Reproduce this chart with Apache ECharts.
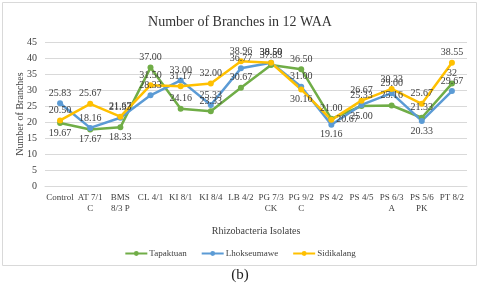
<!DOCTYPE html>
<html><head><meta charset="utf-8">
<script src="https://cdn.jsdelivr.net/npm/echarts@6/dist/echarts.min.js"></script>
<style>html,body{margin:0;padding:0;background:#fff}#c{width:480px;height:292px}</style>
</head><body><div id="c"></div>
<script>
const categories = ["Control","AT 7/1\nC","BMS\n8/3 P","CL 4/1","KI 8/1","KI 8/4","LB 4/2","PG 7/3\nCK","PG 9/2\nC","PS 4/2","PS 4/5","PS 6/3\nA","PS 5/6\nPK","PT 8/2"];
const tapaktuan   = [19.67,17.67,18.33,37.00,24.16,23.33,30.67,37.83,36.50,21.00,25.00,25.16,21.33,32];
const lhokseumawe = [25.83,18.16,21.33,28.33,33.00,25.33,36.77,38.50,31.00,19.16,25.33,29.00,20.33,29.67];
const sidikalang  = [20.50,25.67,21.67,31.50,31.17,32.00,38.96,38.50,30.16,20.67,26.67,30.33,25.67,38.55];
const tapaktuanLabels = tapaktuan.map((v,i)=> i===13 ? '32' : v.toFixed(2));
const yTicks = [0,5,10,15,20,25,30,35,40,45];

const greenPos = ['bottom','bottom','bottom','top','top','top','top','top','top','top','bottom','top','top','top'];
const bluePos  = ['top','top','top','top','top','top','top','top','top','bottom','top','top','bottom','top'];
const yellowPos= ['top','top','top','top','top','top','top','top','bottom','right','top','top','top','top'];

const F = 'Liberation Serif, Times New Roman, serif';
function mk(name, vals, labels, color, pos){
  return {
    name, type:'line', data: vals.map((v,i)=>({value:v, label:{position:pos[i]}})),
    symbol:'circle', symbolSize:6, lineStyle:{width:2.5,color}, itemStyle:{color},
    label:{show:true, fontFamily:F, fontSize:10, color:'#404040', distance:2,
      formatter:p=>labels[p.dataIndex]}
  };
}
const chart = echarts.init(document.getElementById('c'), null, {renderer:'canvas'});
chart.setOption({
  animation:false,
  title:{text:'Number of Branches in 12 WAA', left:'center', top:10,
    textStyle:{fontFamily:F, fontSize:14, fontWeight:'normal', color:'#333'}},
  grid:{left:45, right:13, top:42, bottom:106},
  legend:{top:244, left:'center', itemWidth:22, itemHeight:6, itemGap:14,
    textStyle:{fontFamily:F, fontSize:9, color:'#404040', padding:[0,0,0,-3]}},
  xAxis:{type:'category', data:categories, boundaryGap:true,
    name:'Rhizobacteria Isolates', nameLocation:'middle', nameGap:40,
    nameTextStyle:{fontFamily:F, fontSize:10, color:'#404040'},
    axisLine:{lineStyle:{color:'#d9d9d9'}}, axisTick:{show:false},
    axisLabel:{interval:0, fontFamily:F, fontSize:9, color:'#404040', lineHeight:11, margin:6}},
  yAxis:{type:'value', min:yTicks[0], max:yTicks[yTicks.length-1], interval:5,
    name:'Number of Branches', nameLocation:'middle', nameGap:20, nameMoveOverlap:false,
    nameTextStyle:{fontFamily:F, fontSize:10, color:'#404040'},
    axisLine:{show:false}, axisTick:{show:false},
    axisLabel:{fontFamily:F, fontSize:10, color:'#404040', margin:8},
    splitLine:{lineStyle:{color:'#d9d9d9'}}},
  graphic:[
    {type:'rect', shape:{x:2.5,y:2.5,width:474,height:263}, style:{fill:'none', stroke:'#d9d9d9', lineWidth:1}, silent:true, z:-1},
    {type:'text', left:'center', top:268, style:{text:'(b)', font:'15px '+F, fill:'#222'}}
  ],
  series:[
    mk('Tapaktuan', tapaktuan, tapaktuanLabels, '#70AD47', greenPos),
    mk('Lhokseumawe', lhokseumawe, lhokseumawe.map(v=>v.toFixed(2)), '#5B9BD5', bluePos),
    mk('Sidikalang', sidikalang, sidikalang.map(v=>v.toFixed(2)), '#FFC000', yellowPos)
  ]
});
</script></body></html>
